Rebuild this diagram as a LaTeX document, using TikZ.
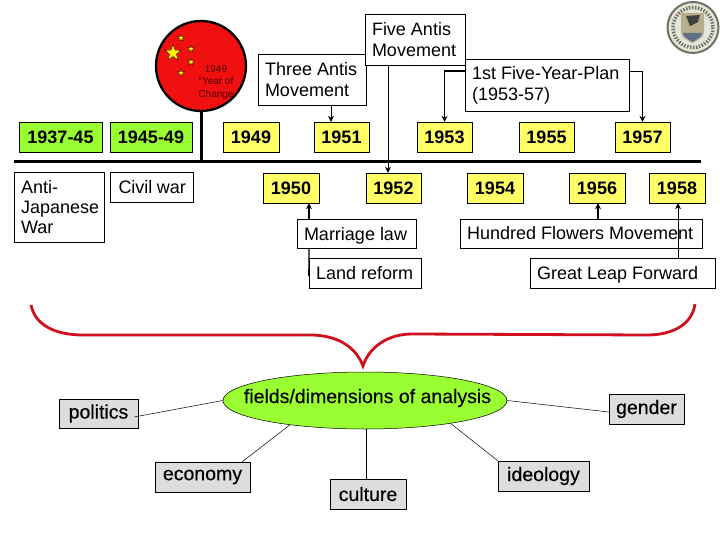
\documentclass[tikz,border=0pt]{standalone}
\usepackage{fontspec}
\setmainfont{Liberation Sans}
\newfontfamily\fieldfont[FakeBold=0.25]{Liberation Sans}
\usetikzlibrary{arrows.meta,positioning,shapes.geometric}
\definecolor{yearyellow}{HTML}{FFFF66}
\definecolor{eragreen}{HTML}{99FF33}
\definecolor{flagred}{HTML}{F01010}
\definecolor{bracered}{HTML}{D0101C}
\definecolor{fieldgrey}{HTML}{DDDDDD}
\definecolor{sealgrey}{HTML}{6E7264}
\definecolor{sealpale}{HTML}{E4E4D8}
\definecolor{sealblue}{HTML}{5F6F86}
\definecolor{sealtan}{HTML}{B8AE8C}
\begin{document}
\begin{tikzpicture}[x=1pt,y=-1pt,
    yearbox/.style={draw=black, fill=yearyellow, font=\fontsize{18}{20}\selectfont\bfseries, minimum width=55.5pt, minimum height=30pt, inner sep=0pt},
    erabox/.style={yearbox, fill=eragreen, minimum width=83pt},
    eventbox/.style={draw=black, fill=white, font=\fontsize{18}{21}\selectfont, inner xsep=7pt, inner ysep=0pt, align=flush left},
    fieldbox/.style={draw=black, fill=fieldgrey, font=\fontsize{19.5}{22}\fieldfont, minimum height=30pt, inner sep=0pt},
    rel/.style={-{Stealth[length=6pt,width=6pt]}, draw=black, line width=0.6pt},
    relthick/.style={rel, line width=1.2pt},
    spoke/.style={draw=black, line width=0.5pt},
    flagstar/.style={star, star points=5, star point ratio=2.4, draw=black, line width=0.3pt, fill=yellow, inner sep=0pt}
  ]
  \useasboundingbox (0,0) rectangle (720,540);
  % timeline
  \coordinate (lineL) at (14,162);
  \coordinate (lineR) at (701,162);
  \draw[line width=3pt] (lineL) -- (lineR);
  % flag
  \node[circle, draw=black, line width=2.3pt, fill=flagred, minimum size=90pt, inner sep=0pt] (flag) at (201,66) {};
  \draw[line width=3pt] (flag.south) -- (flag.south |- lineL);
  \node[flagstar, minimum size=17pt] (bigstar) at (173,53) {};
  \node[flagstar, minimum size=7.5pt] (star1) at (181,38) {};
  \node[flagstar, minimum size=7.5pt] (star2) at (191,49) {};
  \node[flagstar, minimum size=7.5pt] (star3) at (191,62) {};
  \node[flagstar, minimum size=7.5pt] (star4) at (181,73) {};
  \node[font=\fontsize{10}{12.5}\selectfont, align=center, text=black!70!red] (flagtext) at (216,82.5) {1949\\``Year of\\Change};
  % seal
  \node[circle, draw=sealgrey, line width=2pt, fill=sealpale, minimum size=51pt, inner sep=0pt] (seal) at (693,27.5) {};
  \draw[sealgrey, line width=3.5pt, dash pattern=on 1.5pt off 1.5pt] (seal.center) circle (20);
  \fill[sealtan] (681,13) -- (704,13) -- (704,32) .. controls (704,38) and (698,40) .. (692.5,43) .. controls (687,40) and (681,38) .. (681,32) -- cycle;
  \fill[black!75] (686,16) -- (700,15) -- (698,22) -- (690,26) -- cycle;
  \fill[sealblue] (683,33) -- (702,33) .. controls (702,37) and (697,39) .. (692.5,42) .. controls (688,39) and (683,37) .. (683,33) -- cycle;
  % top row
  \node[erabox] (era1) at (60.5,137) {1937-45};
  \node[erabox, minimum width=82pt] (era2) at (151,137) {1945-49};
  \node[yearbox] (y1949) at (251,137) {1949};
  \node[yearbox] (y1951) at (341.5,137) {1951};
  \node[yearbox] (y1953) at (444.5,137) {1953};
  \node[yearbox] (y1955) at (546.5,137) {1955};
  \node[yearbox] (y1957) at (642.5,137) {1957};
  % bottom row
  \node[yearbox] (y1950) at (291,188) {1950};
  \node[yearbox] (y1952) at (393.5,188) {1952};
  \node[yearbox] (y1954) at (495,188) {1954};
  \node[yearbox] (y1956) at (597,188) {1956};
  \node[yearbox] (y1958) at (677,188) {1958};
  % eras
  \node[eventbox, text width=76pt, minimum height=70pt, font=\fontsize{18}{20}\selectfont] (war1) at (59,207) {Anti-\\Japanese\\War};
  \node[eventbox, text width=69pt, minimum height=30pt, inner xsep=7pt] (war2) at (151.5,187) {\hspace{1.5pt}Civil war};
  % events above
  \node[eventbox, text width=94pt, minimum height=51pt] (three) at (312,79.5) {Three Antis\\Movement};
  \node[eventbox, text width=86pt, minimum height=51pt] (five) at (415,39.5) {Five Antis\\Movement};
  \node[eventbox, text width=150pt, minimum height=52pt] (plan) at (547,85) {1st Five-Year-Plan\\(1953-57)};
  % events below
  \node[eventbox, text width=105pt, minimum height=29pt] (marriage) at (356.5,233.5) {\raisebox{0pt}[\height][0pt]{Marriage law}};
  \node[eventbox, text width=98pt, minimum height=30pt] (land) at (365,273) {Land reform};
  \node[eventbox, text width=228pt, minimum height=29pt] (hundred) at (581,233.5) {Hundred Flowers Movement};
  \node[eventbox, text width=171pt, minimum height=30pt] (leap) at (622.5,273) {\raisebox{0pt}[\height][0pt]{Great Leap Forward}};
  % connectors
  \draw[rel] ([xshift=19pt]three.south) -- ([xshift=-10.5pt]y1951.north);
  \draw[rel] ([xshift=-27pt]five.south) -- ([xshift=-5.5pt]y1952.north);
  \draw[relthick] ([yshift=14pt]plan.west) -| (y1953.north);
  \draw[rel] ([yshift=14pt]plan.east) -| (y1957.north);
  \draw[relthick] ([xshift=-47.5pt]marriage.north) -- ([xshift=18pt]y1950.south);
  \draw[line width=1.2pt] ([xshift=-47.5pt]marriage.south) -- ([yshift=-3pt]land.west);
  \draw[relthick] ([xshift=17pt]hundred.north) -- ([xshift=1pt]y1956.south);
  \draw[rel] ([xshift=55.5pt]leap.north) -- ([xshift=1pt]y1958.south);
  % brace
  \draw[bracered, line width=2.8pt, miter limit=20] (31,305) .. controls (35,325) and (55,335) .. (83,335) -- (310,335) .. controls (335,335) and (355,345) .. (363,366) .. controls (369,347) and (388,334) .. (412,334) -- (647,335) .. controls (672,335) and (692,325) .. (695,304);
  % fields
  \node[ellipse, draw=black, fill=eragreen, line width=0.5pt, minimum width=284pt, minimum height=57pt, inner sep=0pt] (fields) at (365,400.5) {};
  \node[font=\fontsize{19.5}{22}\fieldfont, inner sep=0pt] (fieldslabel) at (367.5,398) {fields/dimensions of analysis};
  \node[fieldbox, minimum width=79pt, minimum height=29pt] (politics) at (98.5,413.5) {politics};
  \node[fieldbox, minimum width=95pt] (economy) at (202.5,477) {economy};
  \node[fieldbox, minimum width=76pt] (culture) at (368,494) {culture};
  \node[fieldbox, minimum width=91pt] (ideology) at (543.5,476) {ideology};
  \node[fieldbox, minimum width=75pt] (gender) at (646.5,409) {gender};
  \draw[spoke] ([xshift=-4pt,yshift=-3.5pt]politics.east) -- (fields.west);
  \draw[spoke] ([xshift=-8pt]economy.north east) -- (fields.198);
  \draw[spoke] ([xshift=-2pt]culture.north) -- (fields.south -| 366,0);
  \draw[spoke] (ideology.north west) -- (fields.345);
  \draw[spoke] ([yshift=-3pt]gender.west) -- (fields.east);
\end{tikzpicture}
\end{document}
